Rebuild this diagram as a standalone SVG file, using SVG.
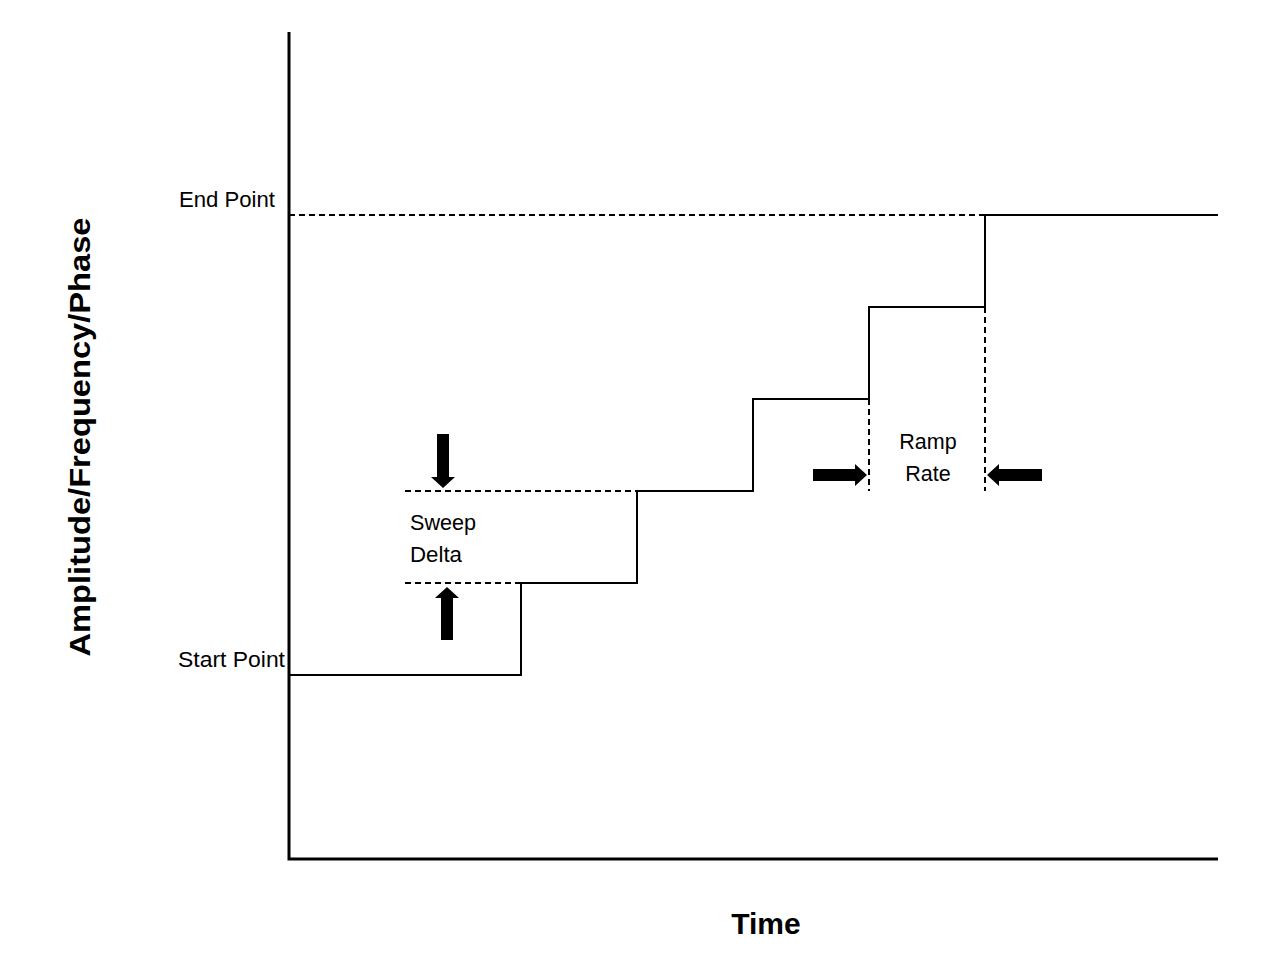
<svg xmlns="http://www.w3.org/2000/svg" width="1263" height="979" viewBox="0 0 1263 979">
<style>
.ax{stroke:#000;stroke-width:3;fill:none}
.st{stroke:#000;stroke-width:2;fill:none}
.ds{stroke:#000;stroke-width:2;fill:none;stroke-dasharray:6,4}
.lb{font-family:"Liberation Sans",Arial,sans-serif;font-size:21.5px;fill:#000}
.tt{font-family:"Liberation Sans",Arial,sans-serif;font-size:30px;font-weight:bold;fill:#000}
.ar{fill:#000}
</style>
<rect width="1263" height="979" fill="#fff"/>
<g id="axes">
<path class="ax" d="M289,32 V859 H1218"/>
</g>
<g id="connectors">
<path class="st" d="M289,675 H521 V583 H637 V491 H753 V399 H869 V307 H985 V215 H1218"/>
<path class="ds" d="M289,215 H985"/>
<path class="ds" d="M405,491 H637"/>
<path class="ds" d="M405,583 H521"/>
<path class="ds" d="M869,399 V491"/>
<path class="ds" d="M985,307 V491"/>
</g>
<g id="arrows">
<polygon class="ar" points="437,434 449,434 449,477 455,477 443,488 431,477 437,477"/>
<polygon class="ar" points="441,640 453,640 453,598 459,598 447,587 435,598 441,598"/>
<polygon class="ar" points="813,469 855,469 855,464 867,475 855,486 855,481 813,481"/>
<polygon class="ar" points="1042,469 999,469 999,464 987,475 999,486 999,481 1042,481"/>
</g>
<g id="labels">
<text class="lb" x="179" y="207" textLength="96" lengthAdjust="spacingAndGlyphs">End Point</text>
<text class="lb" x="178" y="667" textLength="107" lengthAdjust="spacingAndGlyphs">Start Point</text>
<text class="lb" x="410" y="530" textLength="66" lengthAdjust="spacingAndGlyphs">Sweep</text>
<text class="lb" x="410" y="562" textLength="52" lengthAdjust="spacingAndGlyphs">Delta</text>
<text class="lb" x="928" y="449" text-anchor="middle">Ramp</text>
<text class="lb" x="928" y="481" text-anchor="middle">Rate</text>
<text class="tt" x="766" y="934" text-anchor="middle">Time</text>
<text class="tt" transform="translate(90,437) rotate(-90)" text-anchor="middle" textLength="439" lengthAdjust="spacingAndGlyphs">Amplitude/Frequency/Phase</text>
</g>
</svg>
